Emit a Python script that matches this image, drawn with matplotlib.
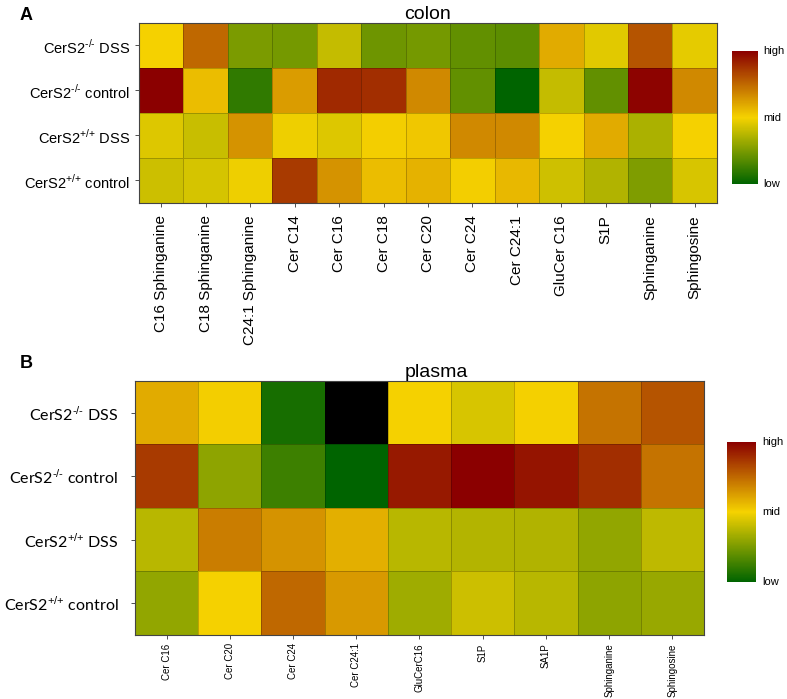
import numpy as np
import matplotlib
matplotlib.use("Agg")
import matplotlib.pyplot as plt
from matplotlib.colors import LinearSegmentedColormap

plt.rcParams["mathtext.fontset"] = "custom"
plt.rcParams["mathtext.rm"] = "Liberation Sans"

# row labels (same for both panels)
rows_a = ["CerS2$^{\\text{-/-}}$ DSS", "CerS2$^{\\text{-/-}}$ control",
          "CerS2$^{\\text{+/+}}$ DSS", "CerS2$^{\\text{+/+}}$ control"]
rows_b = rows_a

# panel A - colon
cols_a = ["C16 Sphinganine", "C18 Sphinganine", "C24:1 Sphinganine", "Cer C14", "Cer C16",
          "Cer C18", "Cer C20", "Cer C24", "Cer C24:1", "GluCer C16", "S1P",
          "Sphinganine", "Sphingosine"]
colon_ko_dss = [0.0, 0.5, -0.5, -0.52, -0.2, -0.55, -0.52, -0.6, -0.62, 0.18, -0.08, 0.6, -0.07]
colon_ko_ctrl = [1.0, 0.1, -0.8, 0.25, 0.8, 0.78, 0.35, -0.6, -1.0, -0.2, -0.6, 0.98, 0.35]
colon_wt_dss = [-0.1, -0.18, 0.3, -0.03, -0.1, 0.02, 0.05, 0.35, 0.35, 0.0, 0.18, -0.3, 0.0]
colon_wt_ctrl = [-0.17, -0.13, -0.03, 0.72, 0.3, 0.1, 0.15, 0.02, 0.12, -0.16, -0.28, -0.48, -0.12]

# panel B - plasma (nan = missing, shown black)
cols_b = ["Cer C16", "Cer C20", "Cer C24", "Cer C24:1", "GluCerC16", "S1P", "SA1P",
          "Sphinganine", "Sphingosine"]
plasma_ko_dss = [0.18, 0.02, -0.9, np.nan, 0.0, -0.12, 0.01, 0.45, 0.6]
plasma_ko_ctrl = [0.72, -0.42, -0.75, -1.0, 0.88, 1.0, 0.9, 0.78, 0.45]
plasma_wt_dss = [-0.25, 0.4, 0.3, 0.17, -0.25, -0.27, -0.28, -0.4, -0.22]
plasma_wt_ctrl = [-0.4, 0.0, 0.5, 0.27, -0.35, -0.17, -0.25, -0.42, -0.38]

cmap = LinearSegmentedColormap.from_list("gyr", ["#006400", "#F5D200", "#8B0000"])
cmap.set_bad("black")

fig = plt.figure(figsize=(7.87, 6.99), dpi=100)


def heat(ax, data, rows, cols, rowfont, rowsize, colsize, ypad, xpad):
    m = np.ma.masked_invalid(np.array(data, dtype=float))
    mesh = ax.pcolormesh(m, cmap=cmap, vmin=-1, vmax=1,
                         edgecolors=(0, 0, 0, 0.22), linewidth=0.6)
    ax.set_xlim(0, len(cols))
    ax.set_ylim(len(rows), 0)
    ax.set_xticks(np.arange(len(cols)) + 0.5)
    ax.set_xticklabels(cols, rotation=90, fontsize=colsize, family="Liberation Sans")
    ax.set_yticks(np.arange(len(rows)) + 0.5)
    ax.set_yticklabels(rows, fontsize=rowsize, family=rowfont)
    ax.tick_params(length=3, width=0.6, color="#333333")
    ax.tick_params(axis="y", pad=ypad)
    ax.tick_params(axis="x", pad=xpad)
    for s in ax.spines.values():
        s.set_color("#444444")
        s.set_linewidth(0.8)
    return mesh


def cbar(cax, mesh, size):
    cb = fig.colorbar(mesh, cax=cax)
    cb.outline.set_visible(False)
    cb.set_ticks([])
    for y, lab in [(1.0, "high"), (0.5, "mid"), (0.0, "low")]:
        cax.text(1.22, y, lab, transform=cax.transAxes, fontsize=size, va="center",
                 family="Liberation Sans")


ax_a = fig.add_axes([0.1766, 0.7096, 0.7344, 0.2575])
mesh_a = heat(ax_a, [colon_ko_dss, colon_ko_ctrl, colon_wt_dss, colon_wt_ctrl],
              rows_a, cols_a, "Liberation Sans", 10.5, 11, 3.5, 6)
ax_a.set_title("colon", fontsize=14, family="Liberation Sans", pad=2)
cax_a = fig.add_axes([0.930, 0.7368, 0.033, 0.190])
cbar(cax_a, mesh_a, 8)

ax_b = fig.add_axes([0.1715, 0.0916, 0.723, 0.3634])
mesh_b = heat(ax_b, [plasma_ko_dss, plasma_ko_ctrl, plasma_wt_dss, plasma_wt_ctrl],
              rows_b, cols_b, "Lato", 11.5, 7, 9, 3)
ax_b.set_title("plasma", fontsize=14, family="Liberation Sans", pad=3, x=0.529)
cax_b = fig.add_axes([0.9238, 0.1674, 0.0368, 0.2003])
cbar(cax_b, mesh_b, 8)

fig.text(0.025, 0.978, "A", fontsize=13, fontweight="bold", family="Liberation Sans", va="center")
fig.text(0.025, 0.480, "B", fontsize=13, fontweight="bold", family="Liberation Sans", va="center")

fig.savefig("out.png", dpi=100)
